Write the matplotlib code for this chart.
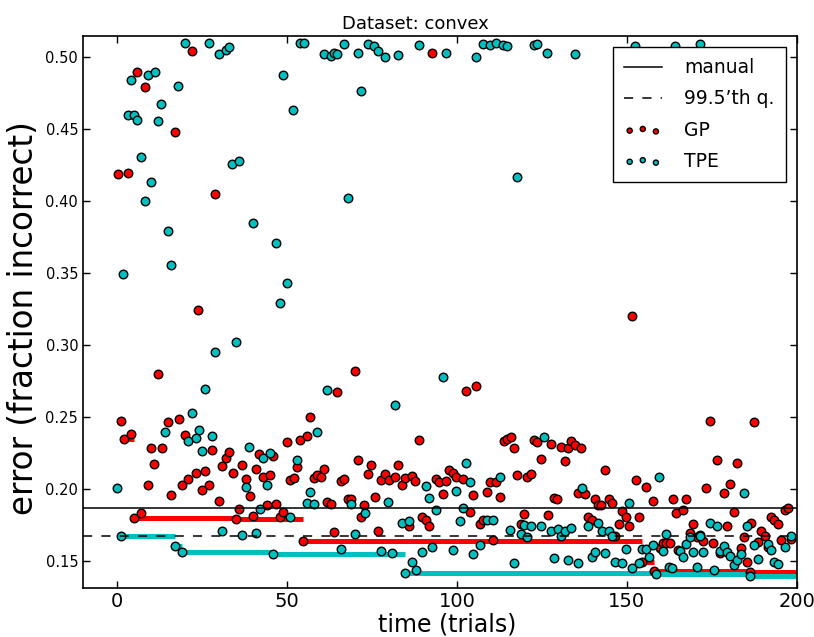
import numpy as np
import matplotlib
matplotlib.use("Agg")
import matplotlib.pyplot as plt

# GP trials (trial index, error)
gp_trial = [0.2, 1.2, 2.05, 3.1, 4.1, 5.1, 6.0, 7.1, 8.1, 9.1, 10.1, 11.0, 12.0, 13.1,
            15.0, 16.0, 17.0, 18.1, 19.05, 20.0, 21.0, 22.1, 23.1, 23.8, 25.0, 26.0,
            27.1, 28.0, 28.9, 30.0, 31.0, 32.1, 33.0, 34.0, 35.0, 36.0, 36.9, 38.0,
            39.0, 40.0, 40.9, 41.9, 43.0, 44.0, 44.9, 45.9, 46.9, 47.9, 48.9, 49.9,
            50.9, 52.0, 53.0, 53.9, 54.7, 55.9, 56.9, 57.9, 58.9, 59.9, 60.9, 61.9,
            62.8, 63.9, 64.7, 65.8, 66.9, 67.8, 68.8, 69.9, 70.9, 71.8, 72.8, 73.8,
            74.8, 75.8, 76.8, 77.8, 78.9, 79.9, 81.8, 82.8, 83.9, 84.8, 85.8, 86.8,
            87.8, 88.7, 89.8, 90.8, 91.8, 92.8, 93.7, 94.7, 95.8, 96.9, 97.7, 98.7,
            99.8, 101.9, 102.7, 103.8, 104.8, 105.7, 106.8, 107.8, 108.7, 109.7, 110.7,
            111.6, 112.8, 113.7, 114.8, 115.8, 116.7, 117.6, 118.7, 119.6, 120.6,
            121.7, 122.6, 123.6, 124.6, 126.7, 127.6, 128.5, 129.5, 130.5, 131.7,
            132.6, 133.6, 134.6, 135.7, 136.6, 137.6, 138.6, 139.6, 140.6, 141.5,
            142.5, 143.6, 144.6, 145.5, 146.6, 147.6, 148.6, 149.6, 150.6, 151.5,
            152.6, 153.6, 154.4, 155.6, 157.6, 158.0, 159.6, 160.6, 161.6, 162.6,
            163.5, 164.5, 164.9, 166.6, 167.4, 168.5, 169.5, 170.5, 171.6, 172.4,
            173.4, 174.5, 175.4, 176.5, 177.5, 178.5, 179.5, 180.4, 181.4, 182.5,
            183.5, 184.5, 185.4, 186.3, 186.4, 187.4, 188.5, 189.3, 190.5, 191.4,
            192.4, 193.4, 194.3, 195.4, 196.4, 197.4, 198.4]
gp_error = [0.4189, 0.2469, 0.2346, 0.4197, 0.2380, 0.1799, 0.4900, 0.1831, 0.4790,
            0.2028, 0.2280, 0.2174, 0.2796, 0.2283, 0.2466, 0.1954, 0.4480, 0.2482,
            0.2026, 0.2374, 0.2068, 0.5046, 0.2112, 0.3245, 0.1989, 0.2126, 0.2028,
            0.2269, 0.4051, 0.1917, 0.2160, 0.2214, 0.2253, 0.2107, 0.1787, 0.1857,
            0.2163, 0.2068, 0.1949, 0.1810, 0.2137, 0.2241, 0.2079, 0.1884, 0.2095,
            0.2227, 0.1891, 0.1801, 0.1838, 0.2325, 0.2061, 0.2072, 0.2151, 0.2339,
            0.1639, 0.2369, 0.2496, 0.2077, 0.2095, 0.2079, 0.2135, 0.1910, 0.1891,
            0.1699, 0.2670, 0.2056, 0.2068, 0.1926, 0.1926, 0.2816, 0.2200, 0.1801,
            0.1887, 0.2100, 0.2163, 0.1940, 0.1706, 0.2061, 0.2105, 0.2061, 0.2081,
            0.2163, 0.2026, 0.2075, 0.1743, 0.2088, 0.2054, 0.2340, 0.1806, 0.1782,
            0.1741, 0.5032, 0.2065, 0.2047, 0.1966, 0.2051, 0.2130, 0.2109, 0.2079,
            0.2065, 0.2681, 0.1840, 0.1959, 0.2716, 0.1757, 0.1782, 0.1979, 0.2049,
            0.1645, 0.2049, 0.1940, 0.2334, 0.2346, 0.2357, 0.2283, 0.2095, 0.1755,
            0.1824, 0.2084, 0.2100, 0.2339, 0.2325, 0.2209, 0.1820, 0.2309, 0.1935,
            0.1926, 0.2290, 0.2193, 0.2281, 0.2334, 0.2302, 0.1970, 0.2281, 0.1963,
            0.1801, 0.1782, 0.1926, 0.1889, 0.1889, 0.2128, 0.1926, 0.1898, 0.1671,
            0.1755, 0.1843, 0.1806, 0.1741, 0.3200, 0.2061, 0.1806, 0.1487, 0.2012,
            0.1912, 0.1425, 0.1585, 0.1620, 0.1625, 0.1625, 0.1926, 0.1829, 0.1574,
            0.1852, 0.1928, 0.1690, 0.1755, 0.1667, 0.1680, 0.1639, 0.2003, 0.2471,
            0.1625, 0.2197, 0.1551, 0.1968, 0.1741, 0.2030, 0.1838, 0.2181, 0.1585,
            0.1662, 0.1493, 0.1418, 0.1759, 0.2462, 0.1632, 0.1708, 0.1671, 0.1597,
            0.1801, 0.1782, 0.1755, 0.1643, 0.1852, 0.1868, 0.1648]

# TPE trials (trial index, error)
tpe_trial = [0.1, 1.07, 1.9, 3.1, 4.1, 5.1, 6.0, 7.0, 8.1, 9.1, 10.0, 11.1, 12.0, 13.0,
             14.1, 15.0, 16.0, 17.0, 18.0, 19.0, 20.1, 21.0, 22.0, 23.1, 24.0, 25.0,
             26.0, 27.0, 28.0, 28.9, 30.0, 31.0, 32.0, 33.0, 33.9, 34.9, 35.9, 36.9,
             38.0, 38.9, 39.9, 40.9, 42.0, 43.0, 44.0, 44.9, 45.9, 46.9, 48.0, 48.8,
             50.0, 50.9, 51.9, 53.0, 53.8, 55.0, 55.9, 56.9, 57.9, 58.9, 60.9, 61.8,
             62.8, 63.8, 64.8, 65.9, 66.9, 67.8, 68.8, 69.9, 70.9, 71.8, 72.9, 73.8,
             75.7, 76.8, 77.8, 78.8, 79.8, 80.8, 81.9, 82.8, 83.9, 84.8, 85.8, 86.9,
             87.9, 88.7, 89.8, 90.8, 91.8, 92.8, 93.7, 95.8, 96.7, 98.8, 99.8, 100.8,
             101.8, 102.7, 103.8, 104.8, 105.7, 106.7, 107.6, 108.7, 109.7, 110.7,
             111.6, 112.8, 113.6, 114.7, 115.7, 116.7, 117.7, 118.7, 119.6, 120.6,
             121.7, 122.6, 123.6, 124.7, 125.6, 126.6, 127.7, 128.6, 129.6, 130.7,
             131.7, 132.6, 133.6, 134.6, 135.7, 136.7, 138.6, 139.6, 140.6, 141.5,
             142.6, 143.6, 144.6, 145.6, 146.6, 148.6, 149.6, 150.6, 151.6, 152.5,
             153.6, 154.5, 155.6, 156.6, 157.6, 158.6, 159.5, 160.6, 161.6, 162.5,
             163.4, 164.0, 165.5, 166.6, 167.4, 168.5, 169.5, 170.7, 171.5, 171.6,
             172.4, 174.5, 175.6, 176.4, 177.5, 178.5, 179.5, 180.4, 181.4, 182.5,
             183.5, 184.5, 185.4, 186.3, 187.4, 188.5, 191.4, 192.4, 193.4, 194.4,
             196.4, 198.4]
tpe_error = [0.2005, 0.1671, 0.3495, 0.4600, 0.4840, 0.4597, 0.4564, 0.4307, 0.4000,
             0.4880, 0.4133, 0.4900, 0.4560, 0.4675, 0.2392, 0.3790, 0.3558, 0.1602,
             0.4800, 0.1560, 0.5100, 0.2332, 0.2527, 0.2353, 0.2408, 0.2265, 0.2690,
             0.5100, 0.2367, 0.2950, 0.5020, 0.1708, 0.5050, 0.5070, 0.4258, 0.3020,
             0.4281, 0.1676, 0.2010, 0.2290, 0.3850, 0.1692, 0.1857, 0.2214, 0.2023,
             0.2251, 0.1548, 0.3707, 0.3289, 0.4877, 0.3428, 0.1806, 0.4630, 0.2197,
             0.5100, 0.5100, 0.1898, 0.1975, 0.1894, 0.2397, 0.5020, 0.2689, 0.5010,
             0.5030, 0.5020, 0.1583, 0.5090, 0.4020, 0.1894, 0.1683, 0.5030, 0.4764,
             0.1829, 0.5090, 0.5080, 0.5046, 0.1569, 0.5004, 0.1905, 0.1550, 0.2582,
             0.5016, 0.1759, 0.1416, 0.1778, 0.1490, 0.1435, 0.5083, 0.1560, 0.2019,
             0.1933, 0.1597, 0.1852, 0.2775, 0.5030, 0.1571, 0.1986, 0.1773, 0.1868,
             0.2181, 0.2047, 0.1548, 0.5004, 0.1606, 0.5090, 0.1783, 0.5088, 0.1780,
             0.5097, 0.2079, 0.5086, 0.5079, 0.1713, 0.1481, 0.4170, 0.1685, 0.1750,
             0.1667, 0.1741, 0.5086, 0.5090, 0.1743, 0.2362, 0.5028, 0.1706, 0.1520,
             0.1718, 0.1671, 0.1704, 0.1504, 0.1725, 0.5023, 0.1486, 0.2003, 0.1743,
             0.1523, 0.1560, 0.1759, 0.1708, 0.1555, 0.1708, 0.1671, 0.1488, 0.1486,
             0.1578, 0.1901, 0.1446, 0.5080, 0.1481, 0.1583, 0.1583, 0.1523, 0.1609,
             0.1405, 0.2081, 0.1565, 0.1685, 0.1458, 0.1446, 0.5080, 0.1569, 0.1523,
             0.1616, 0.1667, 0.1562, 0.1453, 0.1671, 0.5090, 0.1562, 0.1764, 0.1432,
             0.1741, 0.1569, 0.1604, 0.1560, 0.1534, 0.1469, 0.1502, 0.1546, 0.1970,
             0.1741, 0.1392, 0.1606, 0.1509, 0.1616, 0.1574, 0.1493, 0.1477, 0.1597,
             0.1671]

manual_error = 0.1868
q995_error = 0.1671
n_trials = 200


def best_so_far(ax, trials, errors, color):
    # running minimum: one flat segment per new best, up to the next improvement
    order = np.argsort(trials)
    t = np.asarray(trials)[order]
    best = np.minimum.accumulate(np.asarray(errors)[order])
    starts = [0] + [i for i in range(1, len(best)) if best[i] < best[i - 1]]
    ends = [t[i] for i in starts[1:]] + [n_trials]
    ax.hlines(best[starts], t[starts], ends, colors=color, linewidth=3.6, zorder=1)


fig = plt.figure(figsize=(8.14, 6.37), dpi=100)
ax = fig.add_axes([0.102, 0.077, 0.877, 0.867])

best_so_far(ax, gp_trial, gp_error, "r")
best_so_far(ax, tpe_trial, tpe_error, "c")

ax.axhline(manual_error, color="k", linewidth=1.1, zorder=3, label="manual")
ax.axhline(q995_error, color="k", linewidth=1.1, linestyle=(0, (6, 6)), zorder=3,
           label="99.5\u2019th q.")

ax.scatter(gp_trial, gp_error, s=38, c="r", edgecolors="k", linewidths=1.0,
           zorder=2, label="GP")
ax.scatter(tpe_trial, tpe_error, s=38, c="c", edgecolors="k", linewidths=1.0,
           zorder=2, label="TPE")

ax.set_xlim(-10, n_trials)
ax.set_ylim(0.131, 0.515)
ax.set_xticks([0, 50, 100, 150, 200])
ax.set_yticks(np.arange(0.15, 0.51, 0.05))
ax.set_yticklabels(["%.2f" % v for v in np.arange(0.15, 0.51, 0.05)])
ax.tick_params(direction="in", top=True, right=True, length=5, width=1)
ax.tick_params(axis="x", labelsize=14, pad=3)
ax.tick_params(axis="y", labelsize=10.5)
for sp in ax.spines.values():
    sp.set_linewidth(1.2)

ax.set_title("Dataset: convex", fontsize=13, pad=5, x=0.465)
ax.set_xlabel("time (trials)", fontsize=17, labelpad=1, x=0.51)
ax.set_ylabel("error (fraction incorrect)", fontsize=23.5, labelpad=4, y=0.488)

leg = ax.legend(loc="upper right", scatterpoints=3,
                scatteryoffsets=[0.375, 0.5, 0.3125], markerscale=0.6,
                fontsize=13.5, fancybox=False, framealpha=1, edgecolor="k",
                borderaxespad=0.6, borderpad=0.6, handlelength=2.0,
                handletextpad=1.2, labelspacing=0.65)
leg.get_frame().set_linewidth(1.0)

fig.savefig("out.png", dpi=100)
